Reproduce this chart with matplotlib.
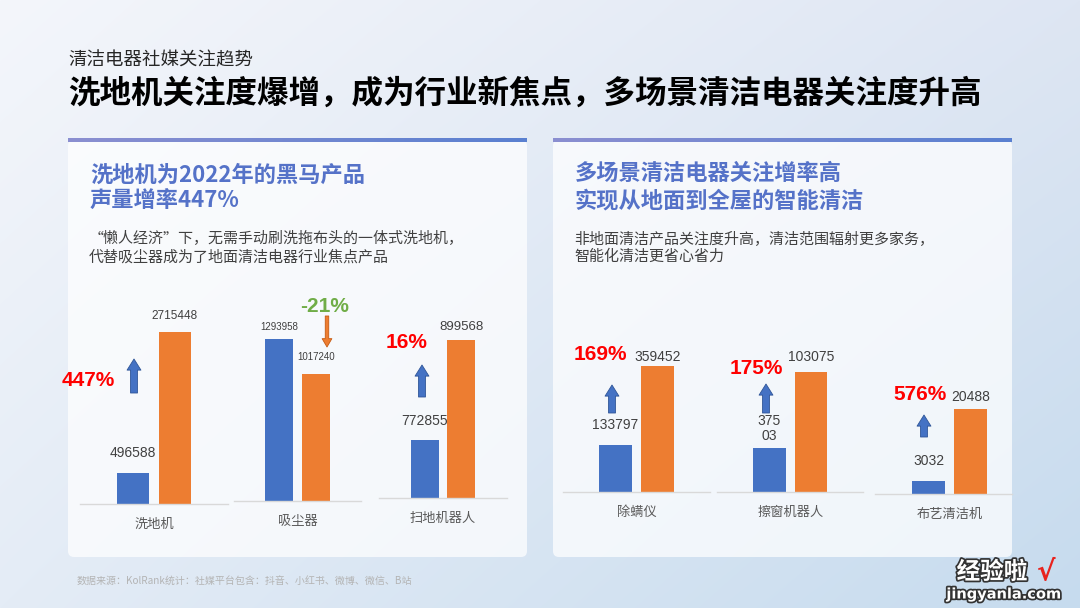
import numpy as np
import matplotlib
matplotlib.use("Agg")
import matplotlib.pyplot as plt
from matplotlib.patches import FancyBboxPatch, FancyArrowPatch, ArrowStyle
import matplotlib.patheffects as pe

plt.rcParams['font.family'] = ['Noto Sans CJK SC', 'DejaVu Sans']
NUM_FONT = ['Liberation Sans', 'Noto Sans CJK SC']

# =============================================================================
# Data (blue = 2021, orange = 2022)
# =============================================================================
left_categories = ['洗地机', '吸尘器', '扫地机器人']
left_2021 = [496588, 1293958, 772855]
left_2022 = [2715448, 1017240, 899568]

right_categories = ['除螨仪', '擦窗机器人', '布艺清洁机']
right_2021 = [133797, 37503, 3032]
right_2022 = [359452, 103075, 20488]

page_subtitle = '清洁电器社媒关注趋势'
page_title = '洗地机关注度爆增，成为行业新焦点，多场景清洁电器关注度升高'
left_heading = ['洗地机为2022年的黑马产品', '声量增率447%']
left_desc = ['“懒人经济”下，无需手动刷洗拖布头的一体式洗地机，',
             '代替吸尘器成为了地面清洁电器行业焦点产品']
right_heading = ['多场景清洁电器关注增率高', '实现从地面到全屋的智能清洁']
right_desc = ['非地面清洁产品关注度升高，清洁范围辐射更多家务，',
              '智能化清洁更省心省力']
source_note = '数据来源：KolRank统计：社媒平台包含：抖音、小红书、微博、微信、B站'

# =============================================================================
# Layout (pixel coordinates on a 1080x608 canvas)
# =============================================================================
W, H = 1080, 608
AX_TOP = 290
BLUE, ORANGE = '#4472C4', '#ED7D31'

# x0, x1: baseline extent; base: baseline y; top: y of tallest bar;
# c0/sep: first bar centre and bar spacing; ymin: axis floor
left_layout = [
    dict(x0=80, x1=228, base=504, top=332, c0=133, sep=42, ymin=0,
         off=(20, 16), size=(10, 8.5), pct=(88, 380), arrow=(134, 393, 359), wrap=(None, None)),
    dict(x0=234, x1=361, base=501, top=339, c0=279, sep=37, ymin=0,
         off=(12, 17), size=(7, 7), pct=(325, 306), arrow=(327, 316, 347), wrap=(None, None)),
    dict(x0=379, x1=507, base=498, top=340, c0=425, sep=36, ymin=700000,
         off=(19, 13), size=(10, 9.5), pct=(407, 343), arrow=(422, 397, 365), wrap=(None, None)),
]
right_layout = [
    dict(x0=563, x1=710, base=492, top=366, c0=615.5, sep=42, ymin=0,
         off=(20, 9), size=(10, 10), pct=(600, 355), arrow=(612, 413, 385), wrap=(None, None)),
    dict(x0=717, x1=863, base=492, top=372, c0=769.5, sep=41.5, ymin=0,
         off=(20, 15), size=(10, 10), pct=(756, 369), arrow=(766, 413, 384), wrap=(3, None)),
    dict(x0=875, x1=1012, base=494, top=409, c0=928.5, sep=42, ymin=0,
         off=(20, 12), size=(10, 10), pct=(920, 394), arrow=(924, 437, 415), wrap=(None, None)),
]

fig = plt.figure(figsize=(10.8, 6.08), dpi=100)

# =============================================================================
# Background, panels, texts
# =============================================================================
bg = fig.add_axes([0, 0, 1, 1])
bg.axis('off')
yy, xx = np.mgrid[0:1:H * 1j, 0:1:W * 1j]
c_tl = np.array([244, 246, 251]) / 255
c_tr = np.array([222, 230, 243]) / 255
c_bl = np.array([228, 236, 246]) / 255
c_br = np.array([198, 219, 238]) / 255
xx3, yy3 = xx[..., None], yy[..., None]
grad = (c_tl * (1 - xx3) * (1 - yy3) + c_tr * xx3 * (1 - yy3)
        + c_bl * (1 - xx3) * yy3 + c_br * xx3 * yy3)
bg.imshow(grad, extent=(0, W, H, 0), aspect='auto', zorder=0)

bar_grad = np.linspace(0, 1, 256)[None, :, None]
c_bar0 = np.array([139, 143, 209]) / 255
c_bar1 = np.array([90, 128, 208]) / 255
top_bar = c_bar0 * (1 - bar_grad) + c_bar1 * bar_grad

for px in (68, 553):
    bg.add_patch(FancyBboxPatch((px, 140), 459, 417,
                                boxstyle='round,pad=0,rounding_size=6',
                                fc='white', ec='none', alpha=0.72, zorder=1))
    bg.imshow(top_bar, extent=(px, px + 459, 142, 138), aspect='auto', zorder=2)

bg.set_xlim(0, W)
bg.set_ylim(H, 0)

bg.text(68, 60, page_subtitle, fontsize=13.3, color='#262626', va='center')
bg.text(68, 94, page_title, fontsize=22.7, weight='bold', color='black', va='center')

for (tx, ys, heading, desc, dys) in [(90, (175, 200), left_heading, left_desc, (238, 257)),
                                     (575, (173, 201), right_heading, right_desc, (239, 257))]:
    for y, line in zip(ys, heading):
        bg.text(tx, y, line, fontsize=16, weight='bold', color='#5572C8', va='center')
    for y, line in zip(dys, desc):
        bg.text(tx - 1, y, line, fontsize=10.8, color='#404040', va='center')

bg.text(77, 581, source_note, fontsize=7.2, color='#B4B4B4', va='center')

# watermark
stroke = [pe.withStroke(linewidth=2.5, foreground='#333333')]
bg.text(992, 572, '经验啦', fontsize=17, weight='bold', color='white',
        ha='center', va='center', path_effects=stroke)
bg.text(1046, 572, '√', fontsize=20, weight='bold', color='#E8231E',
        ha='center', va='center', family=['DejaVu Sans'])
bg.text(1004, 594, 'jingyanla.com', fontsize=10.5, weight='bold', color='white',
        ha='center', va='center', family=['DejaVu Sans'], path_effects=stroke)


# =============================================================================
# Bar groups
# =============================================================================
def draw_group(cat, v21, v22, lay):
    x0, x1, base = lay['x0'], lay['x1'], lay['base']
    ax = fig.add_axes([x0 / W, 1 - base / H, (x1 - x0) / W, (base - AX_TOP) / H])
    ax.patch.set_alpha(0)
    vals = [v21, v22]
    ymin = lay['ymin']
    ytop = ymin + (max(vals) - ymin) * (base - AX_TOP) / (base - lay['top'])
    ax.bar([0, 1], vals, width=0.78, color=[BLUE, ORANGE], zorder=2)
    ax.set_xlim((x0 - lay['c0']) / lay['sep'], (x1 - lay['c0']) / lay['sep'])
    ax.set_ylim(ymin, ytop)
    for s in ('left', 'right', 'top'):
        ax.spines[s].set_visible(False)
    ax.spines['bottom'].set_color('#D9D9D9')
    ax.spines['bottom'].set_linewidth(1.0)
    ax.set_yticks([])
    ax.set_xticks([0.5], [cat])
    ax.tick_params(axis='x', length=0, pad=10, labelsize=9.5, labelcolor='#595959')
    for i, v in enumerate(vals):
        txt = str(v)
        if lay['wrap'][i]:
            k = lay['wrap'][i]
            txt = txt[:k] + '\n' + txt[k:]
        ax.annotate(txt, (i, v), xytext=(0, lay['off'][i] * 0.72),
                    textcoords='offset points', ha='center', va='center',
                    fontsize=lay['size'][i], color='#404040', family=NUM_FONT,
                    linespacing=1.05, annotation_clip=False)


for cats, a, b, lays in [(left_categories, left_2021, left_2022, left_layout),
                         (right_categories, right_2021, right_2022, right_layout)]:
    for cat, v21, v22, lay in zip(cats, a, b, lays):
        draw_group(cat, v21, v22, lay)

# =============================================================================
# Growth labels and arrows (overlay)
# =============================================================================
ov = fig.add_axes([0, 0, 1, 1])
ov.patch.set_alpha(0)
ov.axis('off')
ov.set_xlim(0, W)
ov.set_ylim(H, 0)

for a, b, lays in [(left_2021, left_2022, left_layout),
                   (right_2021, right_2022, right_layout)]:
    for v21, v22, lay in zip(a, b, lays):
        growth = (v22 / v21 - 1) * 100
        up = growth >= 0
        ov.text(lay['pct'][0], lay['pct'][1], f"{growth:.0f}%", fontsize=15, weight='bold',
                color='#FF0000' if up else '#70AD47', ha='center', va='center',
                family=NUM_FONT)
        ax_x, ya, yb = lay['arrow']
        if up:
            style = ArrowStyle.Simple(head_length=8, head_width=10, tail_width=5)
            fc, ec = BLUE, '#2F5597'
        else:
            style = ArrowStyle.Simple(head_length=6, head_width=7, tail_width=2.5)
            fc, ec = ORANGE, '#C55A11'
        ov.add_patch(FancyArrowPatch((ax_x, ya), (ax_x, yb), arrowstyle=style,
                                     mutation_scale=1, fc=fc, ec=ec, lw=0.6,
                                     shrinkA=0, shrinkB=0))

fig.savefig('out.png', dpi=100)
plt.close(fig)
